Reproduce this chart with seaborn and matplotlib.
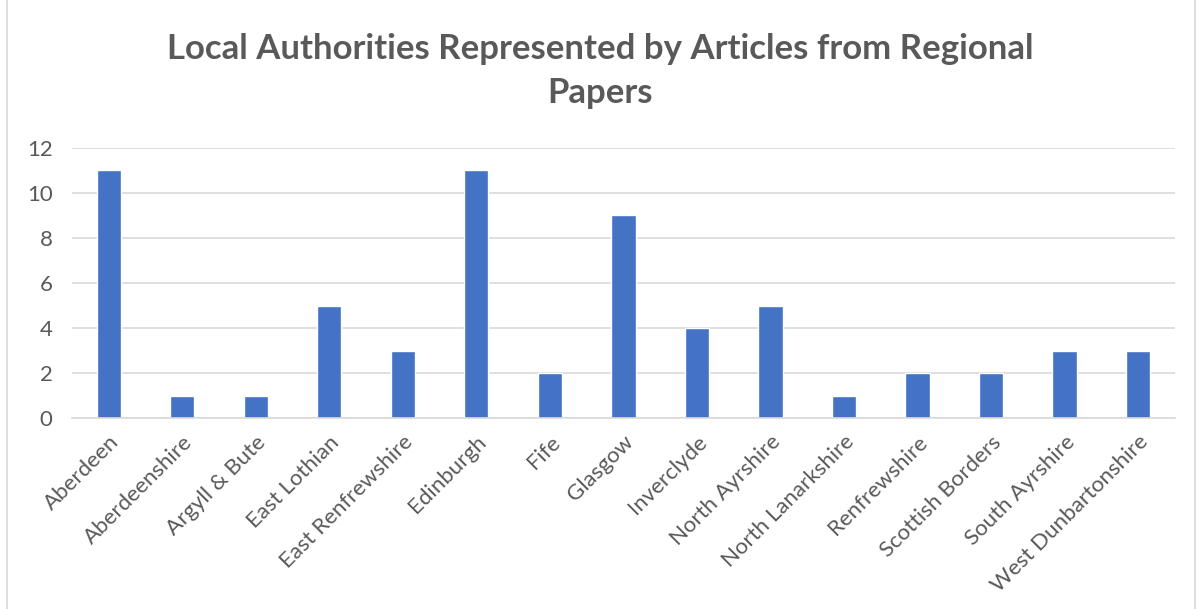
import matplotlib
matplotlib.use("Agg")
import matplotlib.pyplot as plt
import seaborn as sns
import pandas as pd
from matplotlib.patches import Rectangle

categories = ["Aberdeen", "Aberdeenshire", "Argyll & Bute", "East Lothian", "East Renfrewshire",
              "Edinburgh", "Fife", "Glasgow", "Inverclyde", "North Ayrshire", "North Lanarkshire",
              "Renfrewshire", "Scottish Borders", "South Ayrshire", "West Dunbartonshire"]
values = [11, 1, 1, 5, 3, 11, 2, 9, 4, 5, 1, 2, 2, 3, 3]
yticks = [0, 2, 4, 6, 8, 10, 12]
title = "Local Authorities Represented by Articles from Regional\nPapers"

sns.set_theme(style="white")
plt.rcParams['font.family'] = ['Lato', 'DejaVu Sans']
text_color = "#595959"

df = pd.DataFrame({"cat": categories, "val": values})
fig = plt.figure(figsize=(12, 6.09), dpi=100)
ax = fig.add_axes([0.06, 0.3136, 0.919, 0.4434])
sns.barplot(data=df, x="cat", y="val", color="#4472C4", width=0.33, ax=ax, saturation=1)
ax.set_ylim(0, 12)
ax.set_xlim(-0.5, len(categories) - 0.5)
ax.set_yticks(yticks)
ax.set_yticklabels([str(t) for t in yticks], fontsize=16, color=text_color)
ax.set_xticks(range(len(categories)))
ax.set_xticklabels(categories, rotation=45, ha="right", rotation_mode="anchor", fontsize=16, color=text_color)
ax.tick_params(axis="y", length=0, pad=14)
ax.tick_params(axis="x", length=0, pad=10)
ax.set_xlabel("")
ax.set_ylabel("")
ax.yaxis.grid(True, color="#D9D9D9", linewidth=1.2)
ax.set_axisbelow(True)
for s in ["top", "right", "left"]:
    ax.spines[s].set_visible(False)
ax.spines["bottom"].set_color("#D9D9D9")
ax.spines["bottom"].set_linewidth(1.2)

fig.text(0.5, 0.945, title, ha="center", va="top", fontsize=25, fontweight="bold",
         color=text_color, linespacing=1.45)
fig.patches.append(Rectangle((0.006, -0.01), 0.99, 1.02, transform=fig.transFigure,
                             fill=False, edgecolor="#D9D9D9", linewidth=1.2))
fig.savefig("out.png", dpi=100)
